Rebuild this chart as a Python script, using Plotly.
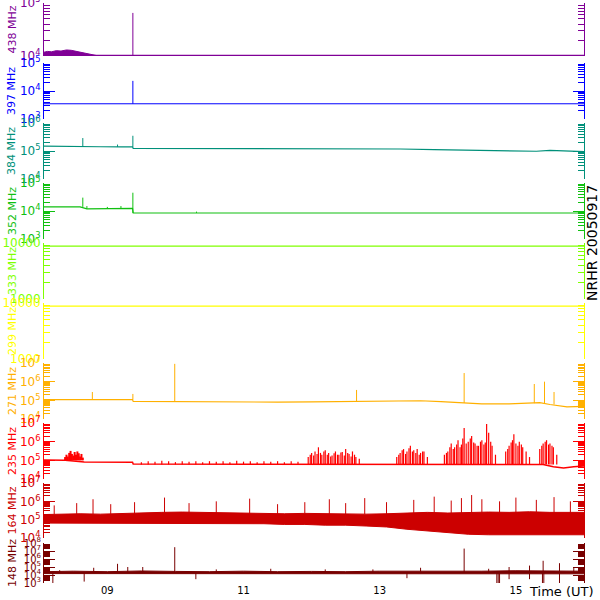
import plotly.graph_objects as go

# ---------------- data (time in decimal hours UT, flux values) ----------------
T_START, T_END = 8.07, 16.0
freq_labels = ["438 MHz", "397 MHz", "384 MHz", "352 MHz", "333 MHz",
               "299 MHz", "271 MHz", "235 MHz", "164 MHz", "148 MHz"]
x_tick_vals = [9, 11, 13, 15]
x_tick_text = ["09", "11", "13", "15"]

# 438 MHz
f438_t = [8.07, 16.0]
f438_v = [1.01e4, 1.01e4]
f438_band_t = [8.07, 8.12, 8.18, 8.25, 8.32, 8.40, 8.47, 8.55, 8.62, 8.70, 8.77, 8.84]
f438_band_hi = [1.18e4, 1.22e4, 1.20e4, 1.26e4, 1.24e4, 1.30e4, 1.28e4, 1.22e4, 1.18e4, 1.12e4, 1.06e4, 1.02e4]
f438_spk_t = [9.375]
f438_spk_lo = [1.01e4]
f438_spk_hi = [6.5e4]

# 397 MHz
f397_t = [8.07, 16.0]
f397_v = [3500, 3500]
f397_spk_t = [9.375]
f397_spk_lo = [3500]
f397_spk_hi = [2.3e4]

# 384 MHz
f384_t = [8.07, 8.40, 8.60, 8.70, 8.90, 9.20, 9.37, 9.38, 9.8, 10.5, 11.2, 12.0, 12.8, 13.3,
          13.8, 14.1, 14.4, 14.7, 15.0, 15.3, 15.5, 15.7, 16.0]
f384_v = [1.5e5, 1.5e5, 1.48e5, 1.42e5, 1.42e5, 1.40e5, 1.40e5, 1.25e5, 1.25e5, 1.22e5, 1.20e5,
          1.22e5, 1.20e5, 1.18e5, 1.12e5, 1.10e5, 1.05e5, 1.0e5, 1.02e5, 0.98e5, 1.05e5, 1.0e5, 0.95e5]
f384_spk_t = [8.64, 9.15, 9.375]
f384_spk_lo = [1.5e5, 1.4e5, 1.4e5]
f384_spk_hi = [2.9e5, 1.7e5, 3.5e5]

# 352 MHz
f352_t = [8.07, 8.60, 8.70, 9.0, 9.37, 9.38, 16.0]
f352_v = [1.4e4, 1.4e4, 1.2e4, 1.2e4, 1.25e4, 8.5e3, 8.5e3]
f352_spk_t = [8.64, 8.70, 9.0, 9.2, 9.375, 10.31]
f352_spk_lo = [1.4e4, 1.2e4, 1.2e4, 1.25e4, 8.5e3, 8.5e3]
f352_spk_hi = [3.0e4, 1.5e4, 1.4e4, 1.5e4, 4.5e4, 9.5e3]

# 333 MHz / 299 MHz
f333_t = [8.07, 16.0]
f333_v = [8800, 8800]
f299_t = [8.07, 16.0]
f299_v = [8800, 8800]

# 271 MHz
f271_t = [8.07, 8.5, 9.37, 9.38, 10.0, 10.5, 11.0, 11.5, 12.0, 12.5, 12.8, 13.2, 13.6, 13.9,
          14.2, 14.5, 14.9, 15.2, 15.35, 15.5, 15.65, 15.75, 16.0]
f271_v = [1.1e5, 1.1e5, 1.08e5, 8.8e4, 8.5e4, 8.0e4, 7.8e4, 8.0e4, 8.2e4, 8.5e4, 9.0e4, 9.5e4,
          9.5e4, 8.5e4, 7.2e4, 6.5e4, 6.5e4, 7.0e4, 7.5e4, 6.0e4, 5.0e4, 4.5e4, 4.8e4]
f271_spk_t = [8.78, 9.375, 9.99, 12.66, 14.24, 15.27, 15.42, 15.56]
f271_spk_lo = [1.1e5, 1.08e5, 8.5e4, 8.5e4, 7.2e4, 7.0e4, 7.0e4, 6.0e4]
f271_spk_hi = [2.8e5, 2.2e5, 9e6, 3.6e5, 2.9e6, 7.5e5, 1.0e6, 2.8e5]

# 235 MHz
f235_t = [8.07, 8.38, 8.66, 9.37, 9.38, 10.5, 11.5, 12.5, 13.5, 14.0, 14.5, 15.0, 15.4,
          15.55, 15.7, 15.85, 16.0]
f235_v = [1.05e5, 1.0e5, 8.1e4, 8.0e4, 6.3e4, 6.3e4, 6.2e4, 6.3e4, 6.2e4, 6.0e4, 6.0e4, 6.0e4,
          6.0e4, 4.5e4, 3.9e4, 4.5e4, 5.0e4]
f235_early_t = [8.38, 8.40, 8.42, 8.44, 8.46, 8.48, 8.50, 8.52, 8.54, 8.56, 8.58, 8.60, 8.62, 8.64]
f235_early_hi = [1.5e5, 2.0e5, 1.6e5, 2.5e5, 3.2e5, 2.2e5, 1.8e5, 2.8e5, 2.0e5, 3.0e5, 2.4e5,
                 1.6e5, 2.2e5, 1.4e5]
f235_early_lo = 1.0e5
f235_spk_t = [9.5, 9.6, 9.7, 9.8, 9.9, 10.0, 10.1, 10.2, 10.3, 10.4, 10.5, 10.6, 10.7, 10.8,
              10.9, 11.0, 11.1, 11.2, 11.3, 11.4, 11.5, 11.6, 11.7, 11.8,
              11.95, 11.98, 12.0, 12.03, 12.05, 12.08, 12.1, 12.13, 12.15, 12.18, 12.2, 12.23,
              12.25, 12.28, 12.3, 12.33, 12.35, 12.38, 12.4, 12.43, 12.45, 12.48, 12.5, 12.53,
              12.55, 12.58, 12.6, 12.63, 12.65, 12.7,
              13.25, 13.28, 13.3, 13.33, 13.35, 13.38, 13.4, 13.43, 13.45, 13.48, 13.5, 13.53,
              13.55, 13.58, 13.6, 13.63, 13.65, 13.7,
              13.95, 13.98, 14.0, 14.03, 14.05, 14.08, 14.1, 14.13, 14.15, 14.18, 14.2, 14.22,
              14.24, 14.27, 14.3, 14.33, 14.35, 14.38, 14.4, 14.43, 14.45, 14.48, 14.5, 14.53,
              14.55, 14.57, 14.6, 14.63, 14.65, 14.7,
              14.85, 14.88, 14.9, 14.93, 14.95, 14.97, 15.0, 15.03, 15.05, 15.08, 15.1, 15.15,
              15.2, 15.35, 15.38, 15.4, 15.43, 15.45, 15.48, 15.5, 15.53, 15.55, 15.6]
f235_spk_hi = [8e4, 9e4, 8.5e4, 9.5e4, 9e4, 8e4, 9e4, 8.5e4, 9e4, 8e4, 9e4, 8.5e4, 9e4, 8e4,
               9.5e4, 8.5e4, 9e4, 8e4, 9e4, 8.5e4, 9e4, 8e4, 9e4, 8.5e4,
               1.5e5, 2e5, 2.5e5, 1.8e5, 3e5, 2.2e5, 5e5, 2.5e5, 2e5, 3e5, 3.5e5, 2e5,
               2.5e5, 1.6e5, 1.8e5, 2.4e5, 3e5, 2e5, 2e5, 2.6e5, 2.8e5, 1.8e5, 4e5, 2.5e5,
               2.2e5, 1.6e5, 3e5, 2e5, 1.5e5, 1.2e5,
               1.5e5, 2e5, 2.5e5, 3.5e5, 4e5, 2.2e5, 3e5, 4.5e5, 6e5, 3e5, 3.5e5, 2.5e5,
               4e5, 2e5, 2.5e5, 3e5, 3e5, 1.5e5,
               2e5, 2.5e5, 3e5, 5e5, 8e5, 4e5, 5e5, 7e5, 1.2e6, 5e5, 7e5, 1.5e6,
               5.4e6, 8e5, 1e6, 1.5e6, 2e6, 9e5, 8e5, 6e5, 6e5, 1e6, 1.2e6, 7e5,
               9e5, 8.9e6, 3e6, 1e6, 6e5, 2e5,
               3e5, 4e5, 6e5, 9e5, 1.2e6, 2.5e6, 8e5, 6e5, 1.0e6, 7e5, 5e5, 3e5,
               1.5e5, 4e5, 6e5, 8e5, 1.0e6, 1.2e6, 7e5, 8e5, 6e5, 5e5, 2e5]
f235_spk_lo = 6.0e4

# 164 MHz
f164_band_t = [8.07, 8.3, 8.6, 8.9, 9.2, 9.5, 9.8, 10.1, 10.4, 10.7, 11.0, 11.3, 11.6, 11.9,
               12.2, 12.5, 12.8, 13.1, 13.4, 13.7, 14.0, 14.3, 14.6, 14.9, 15.2, 15.5, 15.8, 16.0]
f164_band_hi = [1.9e5, 2.0e5, 2.1e5, 2.0e5, 2.2e5, 2.3e5, 2.5e5, 2.6e5, 2.5e5, 2.3e5, 2.2e5,
                2.3e5, 2.1e5, 2.2e5, 2.1e5, 2.0e5, 2.0e5, 2.1e5, 2.3e5, 2.5e5, 2.3e5, 2.5e5,
                2.6e5, 2.5e5, 2.7e5, 2.5e5, 2.6e5, 2.5e5]
f164_band_lo = [6.5e4, 6.5e4, 6.5e4, 6.5e4, 6.5e4, 6e4, 6e4, 6e4, 6e4, 6e4, 6e4, 6e4, 5.5e4,
                5.5e4, 5e4, 5e4, 4.5e4, 4e4, 3e4, 2.5e4, 2e4, 1.6e4, 1.5e4, 1.5e4, 1.5e4,
                1.4e4, 1.5e4, 1.5e4]
f164_spk_t = [8.22, 8.55, 8.79, 9.05, 9.4, 9.84, 10.2, 10.6, 11.09, 11.5, 11.9, 12.26, 12.5,
              12.78, 13.1, 13.5, 13.8, 14.05, 14.2, 14.35, 14.5, 14.76, 15.0, 15.3, 15.56, 15.8]
f164_spk_hi = [6e5, 8e5, 1.3e6, 7e5, 9e5, 1.6e6, 8e5, 1e6, 1.4e6, 7e5, 9e5, 1.3e6, 8e5, 1.5e6,
               9e5, 1.2e6, 1.8e6, 1.1e6, 1.5e6, 2.2e6, 1.3e6, 1.0e6, 1.6e6, 1.2e6, 1.7e6, 1.0e6]
f164_spk_lo = 2.0e5

# 148 MHz
f148_band_t = [8.07, 8.5, 9.0, 9.5, 10.0, 10.5, 11.0, 11.5, 12.0, 12.5, 13.0, 13.5, 14.0,
               14.5, 15.0, 15.5, 16.0]
f148_band_hi = [2.6e4, 3.0e4, 2.6e4, 3.2e4, 2.8e4, 2.6e4, 3.0e4, 2.6e4, 2.8e4, 2.6e4, 3.0e4,
                2.8e4, 3.2e4, 3.0e4, 3.4e4, 3.2e4, 3.0e4]
f148_band_lo = [1.5e4, 1.5e4, 1.4e4, 1.5e4, 1.5e4, 1.4e4, 1.5e4, 1.5e4, 1.4e4, 1.5e4, 1.5e4,
                1.4e4, 1.4e4, 1.3e4, 1.3e4, 1.3e4, 1.4e4]
f148_up_t = [8.3, 8.8, 9.15, 9.3, 9.52, 9.99, 10.6, 11.4, 12.2, 12.9, 13.6, 14.24, 14.6, 14.9,
             15.2, 15.4, 15.64, 15.85]
f148_up_hi = [4e4, 8e4, 2.5e5, 1e5, 1e5, 3e7, 5e4, 6e4, 5e4, 5e4, 8e4, 2e7, 6e4, 1e5, 1.5e5,
              6e5, 3e5, 1e5]
f148_dn_t = [8.2, 8.66, 10.3, 13.4, 14.72, 14.74, 14.76, 14.9, 15.2, 15.39, 15.41, 15.64]
f148_dn_lo = [1e3, 1.5e3, 3e3, 4e3, 1e3, 1e3, 1e3, 3e3, 3e3, 1e3, 1e3, 1e3]
f148_base = 2.0e4

# ---------------- panel styling ----------------
colors = ["#800096", "#0000ff", "#00907a", "#10c010", "#80ff00",
          "#ffff00", "#ffb000", "#ff0000", "#cc0000", "#780000"]
yranges = [[4, 5], [3, 5], [4, 6], [3, 5], [3, 4], [3, 4], [4, 7], [4, 7], [4, 7], [3, 8]]
panels_px = [(3, 56), (63, 119), (123, 179), (183, 239), (243, 299),
             (303, 359), (363, 419), (423, 479), (483, 538), (543, 583)]


def sup(e):
    return "10<sup>%d</sup>" % e


def ypaper(px):
    return (583 - px) / 580.0


def suffix(i):
    return "" if i == 1 else str(i)


fig = go.Figure()


def add_line(i, t, v, w=1):
    s = suffix(i)
    fig.add_trace(go.Scatter(x=t, y=v, mode="lines", line=dict(color=colors[i - 1], width=w),
                             xaxis="x" + s, yaxis="y" + s, hoverinfo="skip"))


def add_band(i, t, lo, hi):
    s = suffix(i)
    c = colors[i - 1]
    fig.add_trace(go.Scatter(x=t, y=lo, mode="lines", line=dict(color=c, width=1),
                             xaxis="x" + s, yaxis="y" + s, hoverinfo="skip"))
    fig.add_trace(go.Scatter(x=t, y=hi, mode="lines", line=dict(color=c, width=1),
                             fill="tonexty", fillcolor=c,
                             xaxis="x" + s, yaxis="y" + s, hoverinfo="skip"))


def add_spikes(i, t, lo, hi, w=1):
    if not isinstance(lo, list):
        lo = [lo] * len(t)
    if not isinstance(hi, list):
        hi = [hi] * len(t)
    xs, ys = [], []
    for a, b, c in zip(t, lo, hi):
        xs += [a, a, None]
        ys += [b, c, None]
    add_line(i, xs, ys, w)


# panel 1: 438
add_band(1, f438_band_t, [f438_v[0]] * len(f438_band_t), f438_band_hi)
add_line(1, f438_t, f438_v, 2)
add_spikes(1, f438_spk_t, f438_spk_lo, f438_spk_hi)
# panel 2: 397
add_line(2, f397_t, f397_v)
add_spikes(2, f397_spk_t, f397_spk_lo, f397_spk_hi)
# panel 3: 384
add_line(3, f384_t, f384_v, 1.2)
add_spikes(3, f384_spk_t, f384_spk_lo, f384_spk_hi)
# panel 4: 352
add_line(4, f352_t, f352_v, 1.2)
add_spikes(4, f352_spk_t, f352_spk_lo, f352_spk_hi)
# panel 5, 6
add_line(5, f333_t, f333_v, 1.2)
add_line(6, f299_t, f299_v, 1.2)
# panel 7: 271
add_line(7, f271_t, f271_v, 1.2)
add_spikes(7, f271_spk_t, f271_spk_lo, f271_spk_hi)
# panel 8: 235
add_line(8, f235_t, f235_v, 1.5)
add_spikes(8, f235_early_t, f235_early_lo, f235_early_hi, 2)
add_spikes(8, f235_spk_t, f235_spk_lo, f235_spk_hi, 1.2)
# panel 9: 164
add_band(9, f164_band_t, f164_band_lo, f164_band_hi)
add_spikes(9, f164_spk_t, f164_spk_lo, f164_spk_hi)
# panel 10: 148
add_band(10, f148_band_t, f148_band_lo, f148_band_hi)
add_spikes(10, f148_up_t, f148_base, f148_up_hi)
add_spikes(10, f148_dn_t, f148_dn_lo, f148_base)

# ---------------- axes ----------------
layout = dict(width=600, height=600, margin=dict(l=44, r=16, t=3, b=17),
              plot_bgcolor="white", paper_bgcolor="white", showlegend=False,
              font=dict(family="DejaVu Sans", size=11, color="black"))

annotations = []
for i in range(1, 11):
    s = suffix(i)
    c = colors[i - 1]
    top, bot = panels_px[i - 1]
    lo, hi = yranges[i - 1]
    if i in (5, 6):
        tv = [1000, 10000]
        tt = ["1000", "10000"]
    else:
        tv = [10 ** e for e in range(lo, hi + 1)]
        tt = [sup(e) for e in range(lo, hi + 1)]
    xa = dict(domain=[0, 1], anchor="y" + s, range=[T_START, T_END], showline=False,
              showgrid=False, zeroline=False, ticks="", showticklabels=(i == 10),
              tickmode="array", tickvals=x_tick_vals, ticktext=x_tick_text,
              tickfont=dict(size=10, color="black"), automargin=False,
              ticklabelstandoff=0, ticklabeloverflow="allow")
    if i > 1:
        xa["matches"] = "x"
    layout["xaxis" + s] = xa
    common = dict(type="log", range=[lo, hi], showline=True, linecolor=c, linewidth=1,
                  ticks="inside", ticklen=11, tickwidth=1, tickcolor=c,
                  tickmode="array", tickvals=tv, ticktext=tt,
                  minor=dict(ticks="inside", ticklen=6, tickwidth=1, tickcolor=c,
                             dtick="D1", showgrid=False),
                  showgrid=False, zeroline=False, automargin=False,
                  ticklabeloverflow="allow")
    ya = dict(common)
    ya.update(domain=[ypaper(bot), ypaper(top)], anchor="x" + s, side="left",
              tickfont=dict(size=12 if i < 10 else 10, color=c))
    layout["yaxis" + s] = ya
    yr = dict(common)
    yr.update(overlaying="y" + s, anchor="x" + s, side="right", showticklabels=False)
    layout["yaxis%d" % (i + 10)] = yr
    fig.add_trace(go.Scatter(x=[None], y=[None], xaxis="x" + s, yaxis="y%d" % (i + 10),
                             mode="lines", hoverinfo="skip"))
    annotations.append(dict(text=freq_labels[i - 1], xref="paper", yref="paper",
                            x=(12 - 44) / 540.0, y=ypaper((top + bot) / 2.0),
                            xanchor="center", yanchor="middle", textangle=-90,
                            showarrow=False, font=dict(size=11, color=c)))

annotations.append(dict(text="NRHR 20050917", xref="paper", yref="paper",
                        x=(592 - 44) / 540.0, y=ypaper(243), xanchor="center",
                        yanchor="middle", textangle=-90, showarrow=False,
                        font=dict(size=14, color="black")))
annotations.append(dict(text="Time (UT)", xref="paper", yref="paper",
                        x=(561 - 44) / 540.0, y=ypaper(591), xanchor="center",
                        yanchor="middle", showarrow=False,
                        font=dict(size=13, color="black")))
layout["annotations"] = annotations
fig.update_layout(**layout)
fig.write_html("out.html", config={"displayModeBar": False},
               post_script="document.body.style.margin='0';document.body.style.overflow='hidden';")
